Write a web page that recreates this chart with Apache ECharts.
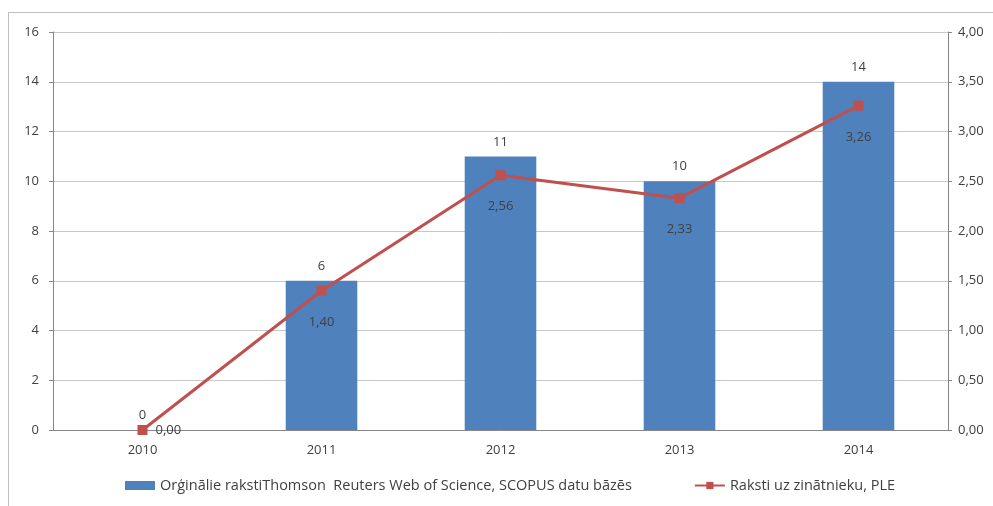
<!DOCTYPE html>
<html>
<head>
<meta charset="utf-8">
<script src="https://cdn.jsdelivr.net/npm/echarts@6/dist/echarts.min.js"></script>
<style>
  html, body { margin: 0; padding: 0; background: #fff; overflow: hidden; }
  .frame {
    position: absolute; left: 8px; top: 12px; width: 1000px; height: 510px;
    border: 1px solid #bfbfbf; box-sizing: border-box;
  }
  #chart { position: absolute; left: 0; top: 0; width: 1010px; height: 506px; }
</style>
</head>
<body>
<div class="frame"></div>
<div id="chart"></div>
<script>
const years = ['2010', '2011', '2012', '2013', '2014']
const articles = [0, 6, 11, 10, 14]
const perScientist = [0.00, 1.40, 2.56, 2.33, 3.26]
const barName = 'Orģinālie rakstiThomson  Reuters Web of Science, SCOPUS datu bāzēs'
const lineName = 'Raksti uz zinātnieku, PLE'

const comma = (v) => v.toFixed(2).replace('.', ',')
const chart = echarts.init(document.getElementById('chart'))
const txt = '#404040'
const font = 'Open Sans'

chart.setOption({
  animation: false,
  textStyle: { fontFamily: font },
  grid: { left: 53, right: 62, top: 32, bottom: 76 },
  legend: {
    bottom: 8,
    left: 120,
    itemGap: 62,
    itemWidth: 30,
    itemHeight: 9,
    textStyle: { color: txt, fontSize: 14.5, fontFamily: font },
    data: [
      { name: barName, icon: 'rect' },
      { name: lineName }
    ]
  },
  xAxis: {
    type: 'category',
    data: years,
    axisLine: { lineStyle: { color: '#868686' } },
    axisTick: { show: false },
    axisLabel: { color: txt, fontSize: 13, margin: 14 }
  },
  yAxis: [
    {
      type: 'value', min: 0, max: 16, interval: 2,
      axisLine: { show: true, lineStyle: { color: '#868686' } },
      axisTick: { show: true, length: 4, lineStyle: { color: '#868686' } },
      axisLabel: { color: txt, fontSize: 13, margin: 14 },
      splitLine: { lineStyle: { color: '#c8c8c8' } }
    },
    {
      type: 'value', min: 0, max: 4, interval: 0.5,
      axisLine: { show: true, lineStyle: { color: '#868686' } },
      axisTick: { show: true, length: 4, lineStyle: { color: '#868686' } },
      axisLabel: { color: txt, fontSize: 13, margin: 10, formatter: comma },
      splitLine: { show: false }
    }
  ],
  series: [
    {
      name: barName,
      type: 'bar',
      data: articles,
      barWidth: '40%',
      itemStyle: { color: '#4f81bd' },
      label: { show: true, position: 'top', color: txt, fontSize: 13, distance: 8 }
    },
    {
      name: lineName,
      type: 'line',
      yAxisIndex: 1,
      data: perScientist.map((v, i) => i === 0
        ? { value: v, label: { position: 'right', distance: 8 } }
        : v),
      symbol: 'rect',
      symbolSize: 10,
      lineStyle: { color: '#c0504d', width: 3 },
      itemStyle: { color: '#c0504d' },
      label: {
        show: true, position: 'bottom', distance: 20, color: txt, fontSize: 13,
        formatter: (p) => comma(p.value)
      }
    }
  ]
})
</script>
</body>
</html>
